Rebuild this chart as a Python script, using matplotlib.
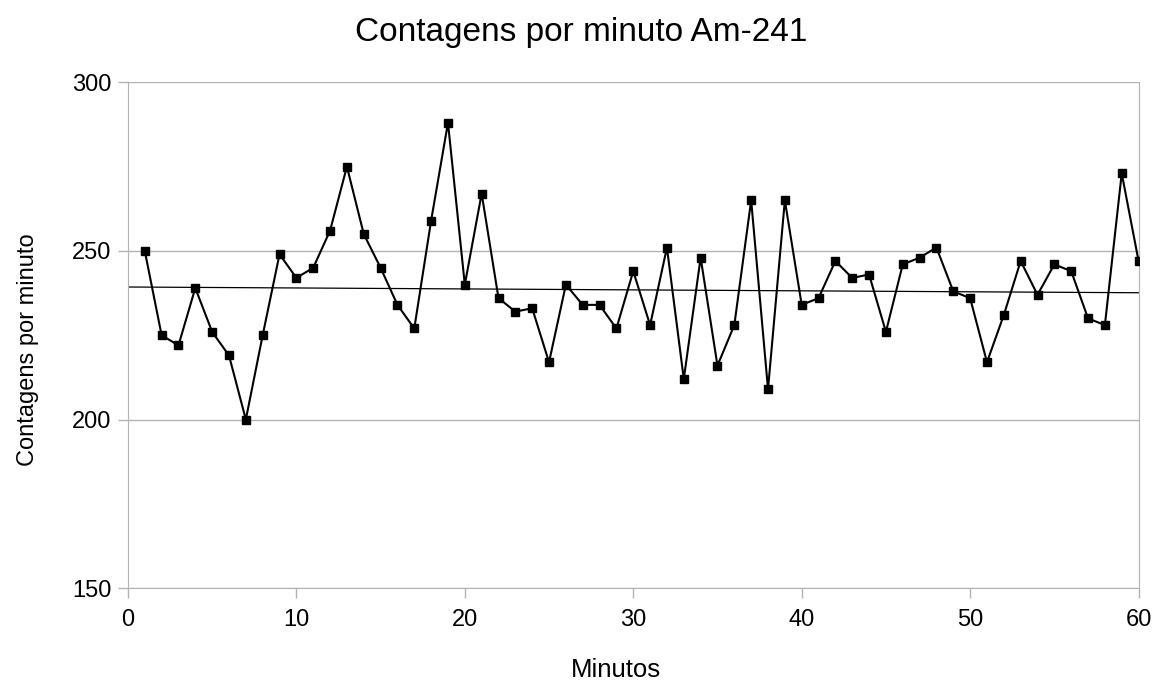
import matplotlib.pyplot as plt
import numpy as np

plt.rcParams['font.family'] = ['Liberation Sans', 'DejaVu Sans']

minutos = np.arange(1, 61)
contagens = [250, 225, 222, 239, 226, 219, 200, 225, 249, 242,
             245, 256, 275, 255, 245, 234, 227, 259, 288, 240,
             267, 236, 232, 233, 217, 240, 234, 234, 227, 244,
             228, 251, 212, 248, 216, 228, 265, 209, 265, 234,
             236, 247, 242, 243, 226, 246, 248, 251, 238, 236,
             217, 231, 247, 237, 246, 244, 230, 228, 273, 247]

# linha de tendencia
tendencia_x = [0, 60]
tendencia_y = [239.3, 237.6]

fig = plt.figure(figsize=(11.63, 6.8), dpi=100)
ax = fig.add_axes([0.110, 0.135, 0.869, 0.744])

ax.plot(minutos, contagens, color='black', lw=1.5, marker='s', ms=6, zorder=3)
ax.plot(tendencia_x, tendencia_y, color='black', lw=0.9, zorder=2)

ax.set_xlim(0, 60)
ax.set_ylim(150, 300)
ax.set_xticks(range(0, 61, 10))
ax.set_yticks(range(150, 301, 50))
ax.grid(axis='y', color='#b3b3b3', lw=1)
ax.set_axisbelow(True)
for s in ['left', 'bottom', 'right']:
    ax.spines[s].set_color('#b3b3b3')
ax.spines['top'].set_visible(False)
ax.tick_params(colors='#b3b3b3', labelcolor='black', labelsize=17, length=7, width=1)
ax.tick_params(axis='x', pad=8)
ax.tick_params(axis='y', pad=5)

ax.set_xlabel('Minutos', fontsize=18.5)
ax.set_ylabel('Contagens por minuto', fontsize=17)
ax.xaxis.set_label_coords(0.483, -0.138)
ax.yaxis.set_label_coords(-0.088, 0.472)
fig.suptitle('Contagens por minuto Am-241', fontsize=24, y=0.975)

fig.savefig('out.png', dpi=100)
